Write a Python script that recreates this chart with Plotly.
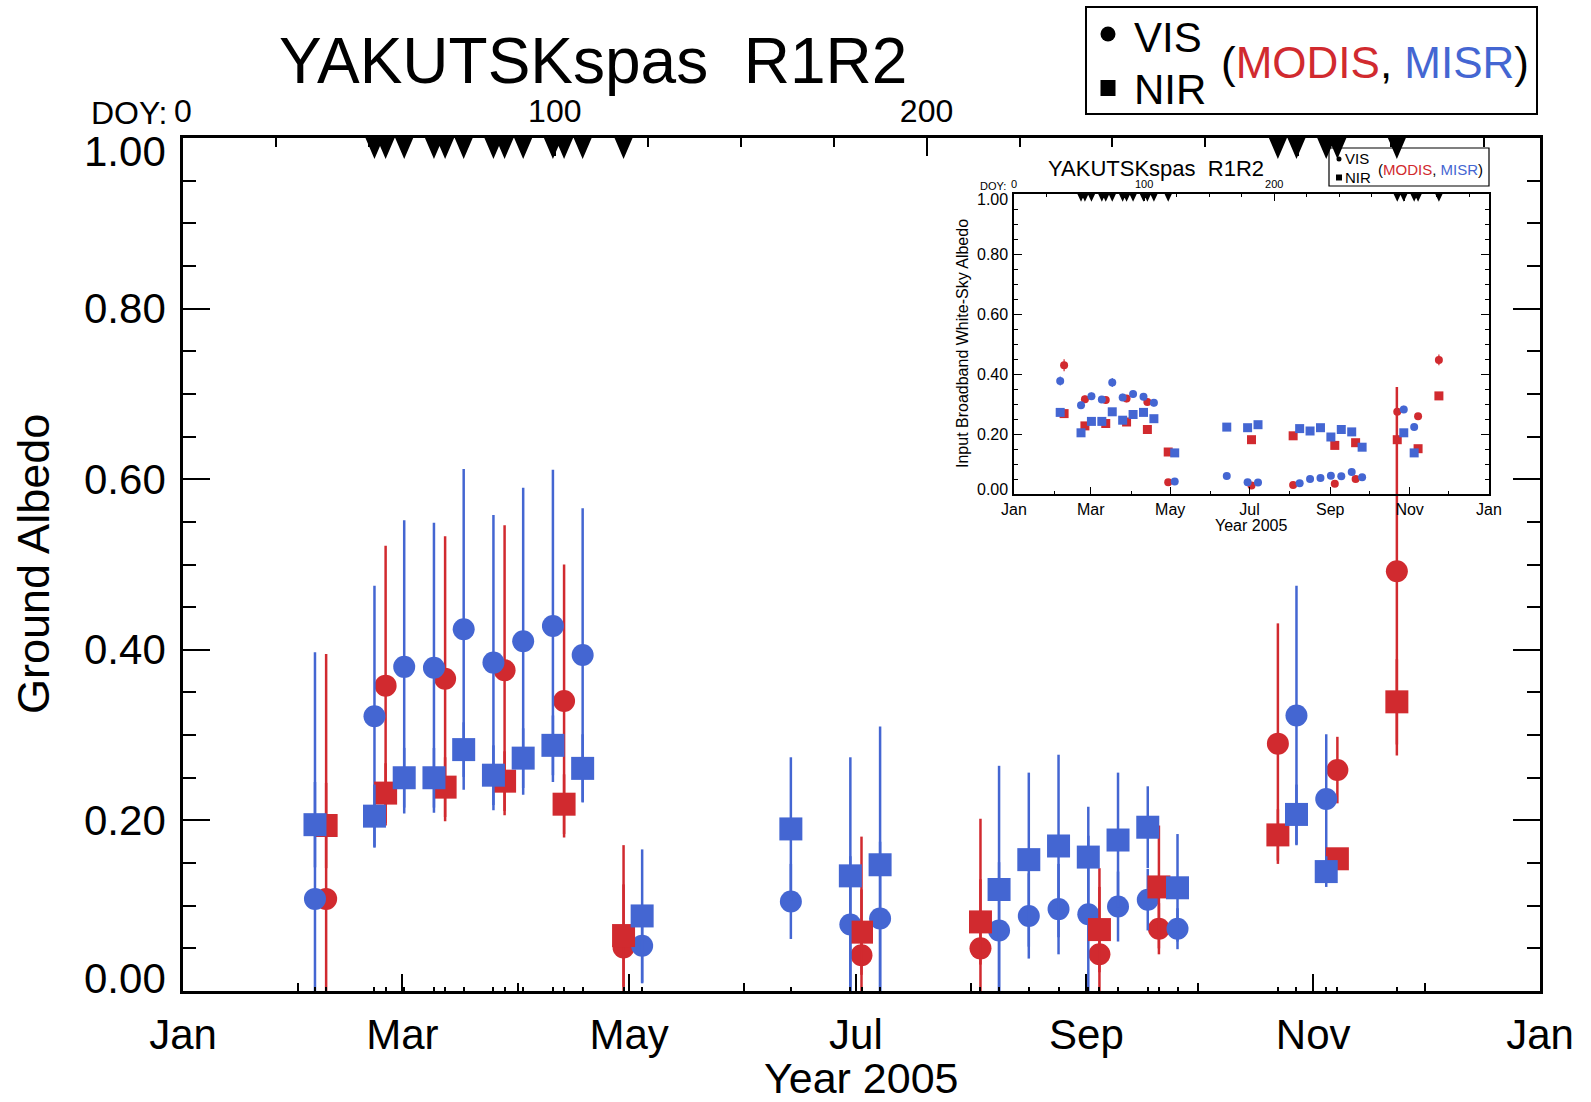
import plotly.graph_objects as go

FONT = "Liberation Sans, Arial, Helvetica, sans-serif"
RED = "#d12a2f"
BLUE = "#4466d2"

# ---------------- axis labels ----------------
month_major_doy = [0, 59, 120, 181, 243, 304, 365]
month_major_lab = ["Jan", "Mar", "May", "Jul", "Sep", "Nov", "Jan"]
month_minor_doy = [31, 90, 151, 212, 273, 334]
doy_tick_vals = [0, 100, 200, 300]
doy_tick_text = ["0", "100", "200", ""]
y_tick_vals = [0.0, 0.2, 0.4, 0.6, 0.8, 1.0]
y_tick_text = ["0.00", "0.20", "0.40", "0.60", "0.80", "1.00"]

# ---------------- main panel data (Ground Albedo) ----------------
misr_doy = [35.5, 51.5, 59.5, 67.5, 75.5, 83.5, 91.5, 99.5, 107.5, 123.5,
            163.5, 179.5, 187.5, 219.5, 227.5, 235.5, 243.5, 251.5, 259.5,
            267.5, 299.5, 307.5]
misr_vis = [0.108, 0.322, 0.380, 0.379, 0.424, 0.385, 0.410, 0.428, 0.394, 0.053,
            0.105, 0.078, 0.085, 0.071, 0.088, 0.096, 0.090, 0.099, 0.107,
            0.073, 0.323, 0.225]
misr_vis_err = [0.289, 0.153, 0.172, 0.170, 0.188, 0.173, 0.180, 0.183, 0.172, 0.044,
                0.044, 0.080, 0.090, 0.080, 0.050, 0.053, 0.092, 0.041, 0.036,
                0.024, 0.152, 0.076]
misr_nir = [0.195, 0.205, 0.250, 0.250, 0.283, 0.253, 0.273, 0.288, 0.261, 0.088,
            0.190, 0.135, 0.148, 0.119, 0.154, 0.170, 0.157, 0.177, 0.192,
            0.121, 0.207, 0.140]
misr_nir_err = [0.050, 0.037, 0.035, 0.035, 0.032, 0.035, 0.035, 0.035, 0.040, 0.078,
                0.084, 0.139, 0.162, 0.145, 0.102, 0.107, 0.059, 0.079, 0.048,
                0.063, 0.035, 0.018]

modis_doy = [38.5, 54.5, 70.5, 86.5, 102.5, 118.5, 182.5, 214.5, 246.5, 262.5,
             294.5, 310.5, 326.5]
modis_vis = [0.108, 0.358, 0.366, 0.376, 0.340, 0.051, 0.042, 0.050, 0.043, 0.073,
             0.290, 0.259, 0.492]
modis_vis_err = [0.287, 0.164, 0.167, 0.170, 0.160, 0.120, 0.139, 0.152, 0.101, 0.030,
                 0.141, 0.039, 0.216]
modis_nir = [0.194, 0.232, 0.239, 0.246, 0.219, 0.065, 0.069, 0.081, 0.072, 0.122,
             0.183, 0.155, 0.339]
modis_nir_err = [0.050, 0.035, 0.035, 0.035, 0.035, 0.060, 0.050, 0.050, 0.050, 0.072,
                 0.030, 0.010, 0.050]

# dates flagged with a triangle at the top of the panels
flag_doy = [51.5, 54.5, 59.5, 67.5, 70.5, 75.5, 83.5, 86.5, 91.5, 99.5, 102.5,
            107.5, 118.5, 294.5, 299.5, 307.5, 310.5, 326.5]

# ---------------- inset data (Input Broadband White-Sky Albedo) ----------------
in_misr_vis = [0.377, 0.296, 0.326, 0.315, 0.372, 0.322, 0.333, 0.324, 0.304, 0.042,
               0.060, 0.039, 0.038, 0.036, 0.050, 0.053, 0.061, 0.059, 0.073,
               0.056, 0.282, 0.223]
in_misr_vis_err = [0.015, 0.012, 0.012, 0.012, 0.015, 0.012, 0.012, 0.012, 0.012, 0.006,
                   0.006, 0.005, 0.005, 0.005, 0.006, 0.006, 0.006, 0.006, 0.008,
                   0.006, 0.012, 0.010]
in_misr_nir = [0.272, 0.204, 0.242, 0.242, 0.274, 0.246, 0.265, 0.272, 0.251, 0.137,
               0.223, 0.221, 0.231, 0.218, 0.210, 0.221, 0.190, 0.215, 0.207,
               0.156, 0.204, 0.137]
in_modis_vis = [0.429, 0.316, 0.313, 0.318, 0.307, 0.039, 0.028, 0.030, 0.034, 0.050,
                0.274, 0.259, 0.447]
in_modis_vis_err = [0.020, 0.012, 0.012, 0.012, 0.012, 0.005, 0.005, 0.005, 0.005, 0.006,
                    0.010, 0.010, 0.018]
in_modis_nir = [0.268, 0.227, 0.235, 0.240, 0.215, 0.140, 0.181, 0.194, 0.162, 0.171,
                0.181, 0.151, 0.327]

# ---------------- geometry helpers (pixel -> paper) ----------------
W, H = 1591, 1102
ML, MR, MT, MB = 183, 51, 138, 111
PW, PH = W - ML - MR, H - MT - MB


def px(x):
    return (x - ML) / PW


def py(y):
    return (H - MB - y) / PH


def triangles(doys, halfw, h, top=1.0):
    xs, ys = [], []
    for d in doys:
        xs += [d - halfw, d + halfw, d, d - halfw, None]
        ys += [top, top, top - h, top, None]
    return xs, ys


fig = go.Figure()


def add_series(x, y, err, color, symbol, size, xa, ya, thick):
    kw = dict(x=x, y=y, mode="markers", xaxis=xa, yaxis=ya, showlegend=False,
              hoverinfo="skip",
              marker=dict(color=color, symbol=symbol, size=size, line=dict(width=0)))
    if err is not None:
        kw["error_y"] = dict(type="data", array=err, symmetric=True,
                             thickness=thick, width=0, color=color)
    fig.add_trace(go.Scatter(**kw))


# main panel
add_series(modis_doy, modis_vis, modis_vis_err, RED, "circle", 22, "x", "y", 2.5)
add_series(misr_doy, misr_vis, misr_vis_err, BLUE, "circle", 22, "x", "y", 2.5)
add_series(modis_doy, modis_nir, modis_nir_err, RED, "square", 23, "x", "y", 2.5)
add_series(misr_doy, misr_nir, misr_nir_err, BLUE, "square", 23, "x", "y", 2.5)

tx, ty = triangles(flag_doy, 2.42, 0.0246)
fig.add_trace(go.Scatter(x=tx, y=ty, xaxis="x3", yaxis="y", mode="lines",
                         fill="toself", fillcolor="black", line=dict(width=0, color="black"),
                         showlegend=False, hoverinfo="skip"))
fig.add_trace(go.Scatter(x=[None], y=[None], xaxis="x5", yaxis="y", mode="markers",
                         showlegend=False, hoverinfo="skip"))

# inset panel
add_series(modis_doy, in_modis_vis, in_modis_vis_err, RED, "circle", 8, "x2", "y2", 1.2)
add_series(misr_doy, in_misr_vis, in_misr_vis_err, BLUE, "circle", 8, "x2", "y2", 1.2)
add_series(modis_doy, in_modis_nir, None, RED, "square", 9, "x2", "y2", 1.2)
add_series(misr_doy, in_misr_nir, None, BLUE, "square", 9, "x2", "y2", 1.2)

tx2, ty2 = triangles(flag_doy, 2.8, 0.026)
fig.add_trace(go.Scatter(x=tx2, y=ty2, xaxis="x4", yaxis="y2", mode="lines",
                         fill="toself", fillcolor="black", line=dict(width=0, color="black"),
                         showlegend=False, hoverinfo="skip"))

all_dates = sorted(set(misr_doy + modis_doy))

axis_common = dict(showgrid=False, zeroline=False, linecolor="black", tickcolor="black",
                   ticks="inside", showline=True)

fig.update_layout(
    width=W, height=H, autosize=False,
    margin=dict(l=ML, r=MR, t=MT, b=MB, pad=0),
    paper_bgcolor="white", plot_bgcolor="rgba(0,0,0,0)",
    font=dict(family=FONT, color="black"),
    showlegend=False,
    xaxis=dict(**axis_common, domain=[0, 1], anchor="y", range=[0, 365],
               tickmode="array", tickvals=month_major_doy, ticktext=month_major_lab,
               ticklen=17, tickwidth=2, linewidth=2.5,
               tickfont=dict(size=42, family=FONT), ticklabelstandoff=5,
               minor=dict(tickmode="array", tickvals=all_dates, ticklen=4,
                          tickwidth=1.5, ticks="inside", tickcolor="black")),
    xaxis5=dict(showgrid=False, zeroline=False, overlaying="x", anchor="y", side="bottom",
                range=[0, 365], tickmode="array", tickvals=month_minor_doy,
                ticks="inside", ticklen=8, tickwidth=2, tickcolor="black",
                showticklabels=False, showline=False),
    xaxis3=dict(**axis_common, overlaying="x", anchor="y", side="top", range=[0, 365],
                tickmode="array", tickvals=doy_tick_vals, ticktext=doy_tick_text,
                ticklen=18, tickwidth=2, linewidth=2.5,
                tickfont=dict(size=32, family=FONT), ticklabelstandoff=0,
                minor=dict(tick0=0, dtick=25, ticklen=9, tickwidth=2, ticks="inside",
                           tickcolor="black")),
    yaxis=dict(**axis_common, domain=[0, 1], anchor="x", range=[0, 1],
               tick0=0, dtick=0.2, ticklen=27, tickwidth=2,
               linewidth=2.5, mirror="ticks", showticklabels=False,
               minor=dict(tick0=0, dtick=0.05, ticklen=13, tickwidth=2, ticks="inside",
                          tickcolor="black")),
    xaxis2=dict(**axis_common, domain=[px(1014), px(1489)], anchor="y2", range=[0, 365],
                tickmode="array", tickvals=month_major_doy, ticktext=month_major_lab,
                ticklen=7, tickwidth=1.2, linewidth=1.5,
                tickfont=dict(size=16, family=FONT), ticklabelstandoff=0,
                minor=dict(tickmode="array", tickvals=month_minor_doy, ticklen=3.5,
                           tickwidth=1.2, ticks="inside", tickcolor="black")),
    xaxis4=dict(**axis_common, overlaying="x2", anchor="y2", side="top", range=[0, 365],
                tickmode="array", tickvals=doy_tick_vals, ticktext=doy_tick_text,
                ticklen=7, tickwidth=1.2, linewidth=1.5,
                tickfont=dict(size=11, family=FONT), ticklabelstandoff=0,
                minor=dict(tick0=0, dtick=25, ticklen=3.5, tickwidth=1.2, ticks="inside",
                           tickcolor="black")),
    yaxis2=dict(**axis_common, domain=[py(494), py(194)], anchor="x2", range=[0, 1],
                tick0=0, dtick=0.2, ticklen=8, tickwidth=1.2,
                linewidth=1.5, mirror="ticks", showticklabels=False,
                minor=dict(tick0=0, dtick=0.05, ticklen=4, tickwidth=1.2, ticks="inside",
                           tickcolor="black")),
)

ann = []


def text(x, y, s, size, xanchor="center", yanchor="middle", angle=0):
    ann.append(dict(x=x, y=y, xref="paper", yref="paper", text=s, showarrow=False,
                    xanchor=xanchor, yanchor=yanchor, textangle=angle,
                    font=dict(family=FONT, size=size, color="black")))


def ylabels(yref, xpaper, size, end_shift):
    n = len(y_tick_vals)
    for i, (v, t) in enumerate(zip(y_tick_vals, y_tick_text)):
        shift = end_shift if i == 0 else (-end_shift if i == n - 1 else 0)
        ann.append(dict(x=xpaper, y=v, xref="paper", yref=yref, text=t, showarrow=False,
                        xanchor="right", yanchor="middle", yshift=shift,
                        font=dict(family=FONT, size=size, color="black")))


legend_txt = ("(<span style='color:%s'>MODIS</span>, "
              "<span style='color:%s'>MISR</span>)" % (RED, BLUE))

# main panel texts
ylabels("y", px(168), 42, 13)
text(px(593), py(61), "YAKUTSKspas&nbsp;&nbsp;R1R2", 64)
text(px(169), py(113), "DOY:", 32, xanchor="right")
text(px(861), py(1078), "Year 2005", 43)
text(px(33), py(564), "Ground Albedo", 45, angle=-90)
text(px(1132), py(37), "VIS", 42, xanchor="left")
text(px(1132), py(89), "NIR", 42, xanchor="left")
text(px(1219), py(63), legend_txt, 44, xanchor="left")

# inset texts
ylabels("y2", px(1010), 16, 5)
text(px(1156), py(168), "YAKUTSKspas&nbsp;&nbsp;R1R2", 22)
text(px(1008), py(186), "DOY:", 11, xanchor="right")
text(px(1251), py(525), "Year 2005", 16)
text(px(962), py(344), "Input Broadband White-Sky Albedo", 16, angle=-90)
text(px(1343), py(158), "VIS", 15, xanchor="left")
text(px(1343), py(177), "NIR", 15, xanchor="left")
text(px(1376), py(169), legend_txt, 15, xanchor="left")

fig.update_layout(annotations=ann)

shapes = [
    dict(type="rect", xref="paper", yref="paper", x0=px(1086), x1=px(1537),
         y0=py(114), y1=py(7), line=dict(color="black", width=2)),
    dict(type="circle", xref="paper", yref="paper", xsizemode="pixel", ysizemode="pixel",
         xanchor=px(1108), yanchor=py(34), x0=-7.5, x1=7.5, y0=-7.5, y1=7.5,
         fillcolor="black", line=dict(width=0)),
    dict(type="rect", xref="paper", yref="paper", xsizemode="pixel", ysizemode="pixel",
         xanchor=px(1108), yanchor=py(88), x0=-7.5, x1=7.5, y0=-8, y1=8,
         fillcolor="black", line=dict(width=0)),
    dict(type="rect", xref="paper", yref="paper", x0=px(1329), x1=px(1489),
         y0=py(186), y1=py(148), line=dict(color="black", width=1.2)),
    dict(type="circle", xref="paper", yref="paper", xsizemode="pixel", ysizemode="pixel",
         xanchor=px(1339), yanchor=py(159), x0=-2.5, x1=2.5, y0=-2.5, y1=2.5,
         fillcolor="black", line=dict(width=0)),
    dict(type="rect", xref="paper", yref="paper", xsizemode="pixel", ysizemode="pixel",
         xanchor=px(1339), yanchor=py(177.5), x0=-3, x1=3, y0=-3, y1=3,
         fillcolor="black", line=dict(width=0)),
]
fig.update_layout(shapes=shapes)

fig.write_html("out.html")
